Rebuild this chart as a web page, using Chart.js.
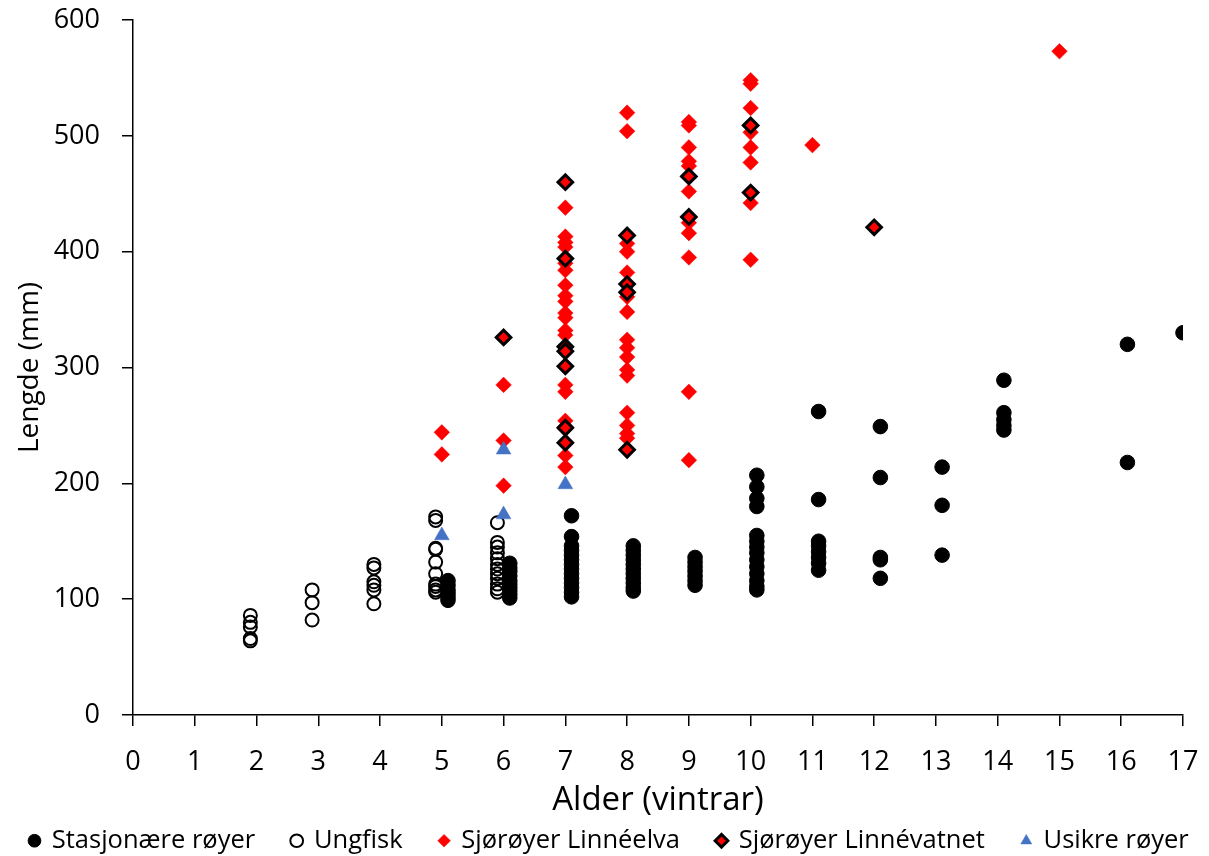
<!DOCTYPE html>
<html>
<head>
<meta charset="utf-8">
<script src="https://cdn.jsdelivr.net/npm/chart.js@4.4.1/dist/chart.umd.min.js"></script>
<style>
  html, body { margin: 0; padding: 0; background: #fff; }
  canvas { display: block; }
</style>
</head>
<body>
<canvas id="ageChart" width="1209" height="856"></canvas>
<script>
  // each row: [age (vintrar), lengths in mm]
  const stasjonaere = [
    [5.1, [116, 112, 108, 105, 102, 99]],
    [6.1, [131, 127, 124, 120, 116, 113, 110, 107, 104, 101]],
    [7.1, [172, 154, 146, 142, 138, 134, 130, 126, 122, 118, 114, 110, 106, 102]],
    [8.1, [146, 142, 138, 134, 130, 126, 122, 118, 114, 110, 107]],
    [9.1, [136, 132, 128, 124, 120, 116, 112]],
    [10.1, [207, 197, 187, 180, 155, 150, 145, 140, 134, 128, 122, 116, 111, 108]],
    [11.1, [262, 186, 150, 146, 141, 136, 131, 125]],
    [12.1, [249, 205, 136, 134, 118]],
    [13.1, [214, 181, 138]],
    [14.1, [289, 261, 255, 250, 246]],
    [16.1, [320, 218]],
    [17, [330]]
  ];
  const ungfisk = [
    [1.9, [86, 80, 76, 66, 64]],
    [2.9, [108, 97, 82]],
    [3.9, [130, 127, 115, 112, 108, 96]],
    [4.9, [171, 168, 144, 143, 132, 122, 113, 111, 108, 106]],
    [5.9, [166, 149, 145, 140, 135, 130, 126, 122, 118, 113, 109, 106]]
  ];
  const linneelva = [
    [5, [244, 225]],
    [6, [326, 285, 237, 198]],
    [7, [460, 438, 413, 408, 404, 394, 390, 384, 371, 362, 357, 347, 343, 332, 328, 318, 314, 301, 285, 279, 254, 249, 247, 235, 224, 214]],
    [8, [520, 504, 414, 407, 400, 382, 372, 365, 361, 348, 324, 317, 309, 298, 293, 261, 250, 243, 239, 229]],
    [9, [512, 509, 490, 478, 474, 465, 452, 430, 425, 416, 395, 279, 220]],
    [10, [548, 545, 524, 509, 503, 490, 477, 451, 442, 393]],
    [11, [492]],
    [12, [421]],
    [15, [573]]
  ];
  const linnevatnet = [
    [6, [326]],
    [7, [460, 394, 318, 314, 301, 248, 235]],
    [8, [414, 372, 365, 229]],
    [9, [465, 430]],
    [10, [509, 451]],
    [12, [421]]
  ];
  const usikre = [
    [5, [155]],
    [6, [229, 173]],
    [7, [199]]
  ];

  const seriesNames = ['Stasjonære røyer', 'Ungfisk', 'Sjørøyer Linnéelva', 'Sjørøyer Linnévatnet', 'Usikre røyer'];
  const xTitle = 'Alder (vintrar)';
  const yTitle = 'Lengde (mm)';

  function toPoints(rows) {
    const pts = [];
    rows.forEach(([age, lengths]) => lengths.forEach(len => pts.push({ x: age, y: len })));
    return pts;
  }

  const FONT = '"Open Sans", "Noto Sans", sans-serif';
  const LEGEND_HEIGHT = 65;
  const LEGEND_PAD = 37;
  const LEGEND_START = 30; // x where the first legend marker begins

  // one wide legend row, short box, started near the left edge of the canvas
  const legendSizer = {
    id: 'legendSizer',
    beforeUpdate(chart) {
      const legend = chart.legend;
      if (!legend || legend._sized) return;
      const fit = legend.fit;
      legend.fit = function () {
        this.maxWidth = 2000;
        fit.call(this);
        this.height = LEGEND_HEIGHT;
      };
      legend._sized = true;
    },
    afterLayout(chart) {
      const legend = chart.legend;
      if (!legend || !legend.lineWidths) return;
      const span = 1400;
      const left = (2 * LEGEND_START - LEGEND_PAD - span + legend.lineWidths[0]) / 2;
      legend.left = left;
      legend.right = left + span;
      legend.width = span;
    }
  };

  new Chart(document.getElementById('ageChart').getContext('2d'), {
    type: 'scatter',
    data: {
      datasets: [
        {
          label: seriesNames[0],
          data: toPoints(stasjonaere),
          pointStyle: 'circle',
          pointRadius: 7.3,
          backgroundColor: '#000',
          borderColor: '#000',
          borderWidth: 1,
          order: 3
        },
        {
          label: seriesNames[1],
          data: toPoints(ungfisk),
          pointStyle: 'circle',
          pointRadius: 6.5,
          backgroundColor: 'rgba(255,255,255,0)',
          borderColor: '#000',
          borderWidth: 2,
          order: 4
        },
        {
          label: seriesNames[2],
          data: toPoints(linneelva),
          pointStyle: 'rectRot',
          pointRadius: 7.8,
          backgroundColor: '#ff0000',
          borderColor: '#ff0000',
          borderWidth: 0.5,
          order: 2
        },
        {
          label: seriesNames[3],
          data: toPoints(linnevatnet),
          pointStyle: 'rectRot',
          pointRadius: 7.3,
          backgroundColor: '#ff0000',
          borderColor: '#000',
          borderWidth: 3,
          order: 1
        },
        {
          label: seriesNames[4],
          data: toPoints(usikre),
          pointStyle: 'triangle',
          pointRadius: 8.5,
          backgroundColor: '#4472c4',
          borderColor: '#4472c4',
          borderWidth: 0.5,
          order: 0
        }
      ]
    },
    options: {
      responsive: false,
      animation: false,
      layout: { padding: { left: 0, right: 26, top: 20, bottom: 0 } },
      plugins: {
        tooltip: { enabled: false },
        legend: {
          position: 'bottom',
          labels: {
            usePointStyle: true,
            boxWidth: 9,
            boxHeight: 9,
            padding: LEGEND_PAD,
            color: '#000',
            font: { family: FONT, size: 25.5 },
            sort: (a, b) => a.datasetIndex - b.datasetIndex
          }
        }
      },
      scales: {
        x: {
          type: 'linear',
          min: 0,
          max: 17,
          afterFit: scale => {
            scale.height = 856 - 715 - LEGEND_HEIGHT;
            scale.paddingLeft = 0;
            scale.paddingRight = 0;
          },
          ticks: {
            stepSize: 1,
            color: '#000',
            padding: 20,
            font: { family: FONT, size: 27 }
          },
          grid: { drawOnChartArea: false, drawTicks: true, tickLength: 11, color: '#000', lineWidth: 1.5 },
          border: { color: '#000', width: 1.5 },
          title: {
            display: true,
            text: xTitle,
            color: '#000',
            font: { family: FONT, size: 33 },
            padding: { top: 0, bottom: -29 }
          }
        },
        y: {
          min: 0,
          max: 600,
          afterFit: scale => {
            scale.width = 133;
            scale.paddingTop = 16;
            scale.paddingBottom = 16;
          },
          ticks: {
            stepSize: 100,
            color: '#000',
            padding: 22,
            font: { family: FONT, size: 27 }
          },
          grid: { drawOnChartArea: false, drawTicks: true, tickLength: 11, color: '#000', lineWidth: 1.5 },
          border: { color: '#000', width: 1.5 },
          title: {
            display: true,
            text: yTitle,
            color: '#000',
            font: { family: FONT, size: 28 },
            padding: { top: 13, bottom: 0 }
          }
        }
      }
    },
    plugins: [legendSizer]
  });
</script>
</body>
</html>
